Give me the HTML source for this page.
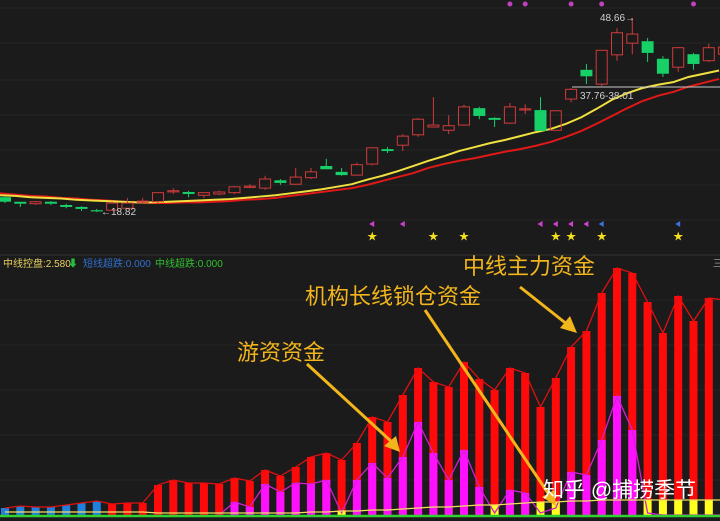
<!DOCTYPE html>
<html><head><meta charset="utf-8"><style>
html,body{margin:0;padding:0;background:#1b1b1b;}
svg{display:block;font-family:"Liberation Sans","Noto Sans CJK SC",sans-serif;}
</style></head><body>
<svg id="chart" width="720" height="521" viewBox="0 0 720 521">
<rect x="0" y="0" width="720" height="521" fill="#1b1b1b"/>
<g id="grid"></g>
<g id="mas"></g>
<g id="candles"></g>
<g id="marks"></g>
<g id="lower"></g>
<line x1="572" y1="87" x2="720" y2="87" stroke="#c8c8c8" stroke-width="1"/>
<text x="580" y="99" fill="#d0d0d0" font-size="10">37.76-38.01</text>
<text x="600" y="21" fill="#d0d0d0" font-size="10">48.66→</text>
<text x="101" y="215" fill="#d0d0d0" font-size="10">←18.82</text>
<line x1="0" y1="255" x2="720" y2="255" stroke="#333"/>
<text x="3" y="267" fill="#e8d060" font-size="10">中线控盘:2.580</text>
<text x="68" y="267" fill="#20c040" font-size="10">⬇</text>
<text x="83" y="267" fill="#3070d0" font-size="10">短线超跌:0.000</text>
<text x="155" y="267" fill="#30c030" font-size="10">中线超跌:0.000</text>
<text x="713" y="267" fill="#999" font-size="10">三</text>
<g>
<line x1="307" y1="364" x2="394" y2="444" stroke="#f2b51c" stroke-width="3"/>
<polygon points="400,452 384,446 396,436" fill="#f2b51c"/>
<line x1="425" y1="310" x2="550" y2="496" stroke="#f2b51c" stroke-width="3"/>
<polygon points="556,506 542,497 554,490" fill="#f2b51c"/>
<line x1="520" y1="287" x2="568" y2="325" stroke="#f2b51c" stroke-width="3"/>
<polygon points="577,333 560,328 570,316" fill="#f2b51c"/>
<text x="463" y="274" fill="#f2b51c" font-size="22">中线主力资金</text>
<text x="305" y="304" fill="#f2b51c" font-size="22">机构长线锁仓资金</text>
<text x="237" y="360" fill="#f2b51c" font-size="22">游资资金</text>
<text x="543" y="497" fill="#ffffff" font-size="21">知乎 @捕捞季节</text>
</g>
</svg>
<script>
const opens  =[21.1,20.4,20.1,20.4,19.9,19.6,19.1,19.1,19.4,20.5,20.4,22.0,21.9,21.4,21.6,21.8,22.7,22.5,23.7,23.1,24.1,25.9,25.0,24.5,26.2,28.5,29.1,30.7,31.9,31.4,32.2,34.8,33.3,32.5,34.7,34.5,31.4,36.2,40.7,38.5,43.0,44.8,45.1,42.4,41.1,43.1,42.1,43.1];
const closes =[20.4,20.1,20.4,20.1,19.6,19.3,19.0,20.2,20.2,20.5,21.8,22.1,21.6,21.8,21.9,22.7,22.8,23.9,23.3,24.2,25.0,25.4,24.5,26.1,28.7,28.2,30.5,33.1,32.2,32.1,35.0,33.6,33.0,35.0,34.7,31.3,34.4,37.7,39.7,43.7,46.4,46.2,43.3,40.1,44.1,41.6,44.1,44.2];
const highs  =[21.3,20.4,20.5,20.5,20.1,19.7,19.3,20.4,21.0,21.0,21.8,22.5,22.1,21.8,22.1,22.8,23.1,24.4,23.9,25.6,25.6,27.0,25.6,26.4,28.8,28.8,30.8,33.3,36.5,33.7,35.3,35.0,33.4,35.6,35.4,36.5,34.5,37.9,41.6,43.7,47.1,48.7,45.6,42.8,44.2,43.3,44.7,44.5];
const lows   =[20.2,19.6,19.9,19.9,19.4,19.0,18.8,19.0,19.3,20.2,20.2,21.6,21.1,21.0,21.4,21.6,22.5,22.2,23.0,23.0,23.9,25.4,24.4,24.4,26.0,27.9,28.2,30.4,31.9,30.8,32.1,33.1,31.9,32.4,33.9,31.3,31.4,35.7,38.5,38.2,42.1,43.1,41.9,39.6,40.4,40.7,41.9,43.0];
const maFast =[21.4,21.3,21.1,21.0,20.9,20.7,20.6,20.5,20.4,20.3,20.3,20.4,20.5,20.6,20.7,20.8,21.0,21.2,21.4,21.7,22.0,22.3,22.7,23.1,23.8,24.4,25.1,25.9,26.7,27.4,28.2,28.8,29.4,29.9,30.5,31.1,31.6,32.4,33.4,34.7,36.1,37.1,37.9,38.4,38.8,39.6,40.1,40.6];
const maSlow =[21.7,21.5,21.3,21.2,21.0,20.9,20.7,20.6,20.4,20.3,20.2,20.2,20.3,20.3,20.4,20.5,20.7,20.8,21.0,21.3,21.6,21.9,22.2,22.5,23.0,23.6,24.2,24.8,25.6,26.2,26.7,27.1,27.6,28.1,28.5,29.0,29.6,30.4,31.3,32.4,33.6,34.8,35.9,36.7,37.3,38.1,38.7,39.3];
const dotIdx  =[33,34,37,39,45];
const flagIdx =[24,26,35,36,37,38,39,44];
const flagBlue=[39,44];
const starIdx =[24,28,30,36,37,39,44];
const mainFund=[7,9,8,8,10,12,14,11,12,12,30,35,32,32,31,37,34,45,39,48,58,62,55,72,98,93,120,147,133,128,153,136,125,147,142,108,137,168,184,222,247,242,213,182,219,194,217,215];
const hotMoney=[0,0,0,0,0,0,0,0,0,0,0,0,0,0,0,13,8,31,23,32,31,35,2,35,52,37,58,93,62,35,65,28,2,25,22,2,7,43,40,75,119,85,2,0,0,0,0,0];
const longLock=[3,3,3,3,3,3,3,3,3,3,2,2,2,2,2,2,2,2,2,2,3,3,4,4,5,5,6,7,8,8,9,10,10,11,12,13,13,14,14,15,15,15,15,15,15,15,15,15];

const NS="http://www.w3.org/2000/svg";
function mk(tag,attrs,parent){const e=document.createElementNS(NS,tag);for(const k in attrs)e.setAttribute(k,attrs[k]);parent.appendChild(e);return e;}
const xAt=i=>5+15.3*i;
const yP=p=>(51.44-p)*6.5;
const BASE=515;
const yF=v=>BASE-v;

const grid=document.getElementById('grid');
[8,43,80,115,150,185,220,300,345,390,435,480].forEach(y=>{
  const l=mk('line',{x1:0,x2:720,y1:y,y2:y,stroke:'#262626','stroke-width':1},grid);
  
  
});

// moving averages
const mas=document.getElementById('mas');
[[maSlow,'#e01818','ma-slow-line'],[maFast,'#f0e040','ma-fast-line']].forEach(([arr,col,nm])=>{
  const pts=arr.map((v,i)=>xAt(i-0.33)+','+yP(v)).join(' ');
  const pl=mk('polyline',{points:pts,fill:'none',stroke:col,'stroke-width':2},mas);
  
  
});

// candles
const cg=document.getElementById('candles');
opens.forEach((o,i)=>{
  const c=closes[i],up=c>=o,x=xAt(i);
  const col=up?'#d03a3a':'#18d068';
  const g=mk('g',{},cg);
  
  
  const top=Math.min(yP(o),yP(c)),bot=Math.max(yP(o),yP(c));
  mk('line',{x1:x,x2:x,y1:yP(highs[i]),y2:top,stroke:col,'stroke-width':1},g);
  mk('line',{x1:x,x2:x,y1:bot,y2:yP(lows[i]),stroke:col,'stroke-width':1},g);
  const h=Math.max(bot-top,1.2);
  if(up) mk('rect',{x:x-5.5,y:top,width:11,height:h,fill:'none',stroke:col,'stroke-width':1},g);
  else mk('rect',{x:x-6,y:top,width:12,height:h,fill:col},g);
});

// markers
const mg=document.getElementById('marks');
dotIdx.forEach(i=>{
  const d=mk('circle',{cx:xAt(i),cy:4,r:2.5,fill:'#c040c0'},mg);
  
  
});
flagIdx.forEach(i=>{
  const x=xAt(i),col=flagBlue.includes(i)?'#3a70e0':'#d040d0';
  const f=mk('polygon',{points:`${x+2},221 ${x-3},224 ${x+2},227`,fill:col},mg);
  
  
});
starIdx.forEach(i=>{
  const s=mk('text',{x:xAt(i),y:240,fill:'#f5e020','font-size':10,'text-anchor':'middle'},mg);
  s.textContent='★';
  
  
});

// lower panel
const lg=document.getElementById('lower');
mainFund.forEach((v,i)=>{
  const x=xAt(i);
  const col=i<7?'#2080e0':'#ff0a0a';
  const r=mk('rect',{x:x-4,y:yF(v),width:8,height:v,fill:col},lg);
  
  
  if(hotMoney[i]>0){
    const m=mk('rect',{x:x-4,y:yF(hotMoney[i]),width:8,height:hotMoney[i],fill:'#ff10ff'},lg);
    
    
  }
  if(i>=20 && hotMoney[i]<longLock[i]){
    const y=mk('rect',{x:x-4,y:yF(longLock[i]),width:8,height:longLock[i],fill:'#ffff20'},lg);
    
    
  }
});
const mainLine=mk('polyline',{points:mainFund.map((v,i)=>xAt(i)+','+yF(v)).join(' '),fill:'none',stroke:'#e01010','stroke-width':1.3},lg);


const hotLine=mk('polyline',{points:hotMoney.map((v,i)=>xAt(i)+','+yF(v)).slice(14).join(' '),fill:'none',stroke:'#d020d0','stroke-width':1.3},lg);


const lockLine=mk('polyline',{points:longLock.map((v,i)=>xAt(i)+','+yF(v)).join(' '),fill:'none',stroke:'#f0e060','stroke-width':1.2},lg);


const zl=mk('line',{x1:0,x2:720,y1:BASE+1,y2:BASE+1,stroke:'#30d030','stroke-width':2.5},lg);


</script>
</body></html>
